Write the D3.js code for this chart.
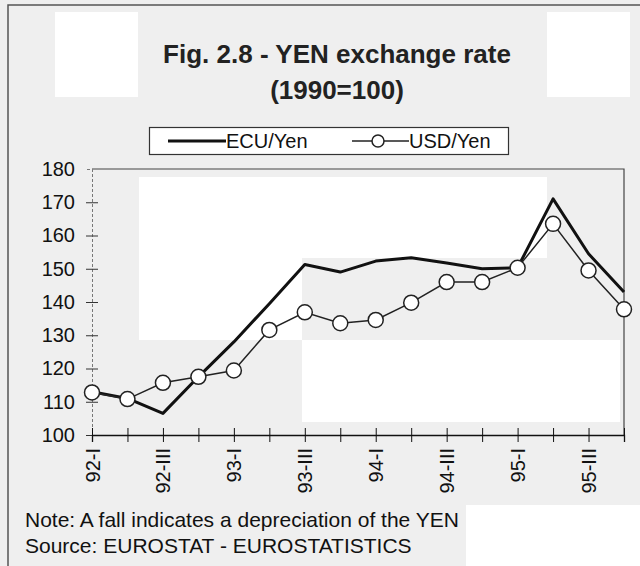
<!DOCTYPE html>
<html>
<head>
<meta charset="utf-8">
<script src="https://cdn.jsdelivr.net/npm/d3@7"></script>
<style>
  html, body { margin: 0; padding: 0; background: #efefef; }
  svg { display: block; font-family: 'Liberation Sans', Arial, sans-serif; }
</style>
</head>
<body>
<svg id="chart"></svg>
<script>
// quarters 92-I .. 95-IV
const quarters = ['92-I', '92-II', '92-III', '92-IV',
                  '93-I', '93-II', '93-III', '93-IV',
                  '94-I', '94-II', '94-III', '94-IV',
                  '95-I', '95-II', '95-III', '95-IV']
const ecuYen = [113, 111, 106.5, 117.5, 128, 139.5, 151.3, 149, 152.3, 153.3, 151.7, 150, 150.3, 171, 154.5, 143]
const usdYen = [112.8, 110.8, 115.7, 117.5, 119.4, 131.6, 136.9, 133.6, 134.6, 139.8, 146, 146, 150.3, 163.5, 149.5, 137.8]
const yTicks = [100, 110, 120, 130, 140, 150, 160, 170, 180]
const seriesNames = ['ECU/Yen', 'USD/Yen']

const W = 640, H = 566
const FONT = "'Liberation Sans', Arial, sans-serif"
const svg = d3.select('#chart').attr('width', W).attr('height', H)

// background + light patches of the scan
svg.append('rect').attr('width', W).attr('height', H).attr('fill', '#efefef')
const patches = [
    [55, 12, 83, 85], [547, 12, 83, 85],
    [139, 177, 163, 163], [302, 177, 245, 81],
    [302, 340, 245, 82], [547, 340, 73, 82],
    [466, 505, 174, 61]
]
svg.selectAll('rect.patch').data(patches).enter().append('rect')
    .attr('class', 'patch')
    .attr('x', d => d[0]).attr('y', d => d[1])
    .attr('width', d => d[2]).attr('height', d => d[3])
    .attr('fill', '#ffffff')

// outer frame (top + left only visible)
svg.append('path').attr('d', `M8,${H} L8,5 L${W},5`)
    .attr('fill', 'none').attr('stroke', '#555').attr('stroke-width', 1.5)

// title
svg.append('text').attr('x', 337).attr('y', 63)
    .attr('text-anchor', 'middle').attr('font-weight', 'bold').attr('font-size', 26)
    .attr('fill', '#222')
    .text('Fig. 2.8 - YEN exchange rate')
svg.append('text').attr('x', 337).attr('y', 99)
    .attr('text-anchor', 'middle').attr('font-weight', 'bold').attr('font-size', 26)
    .attr('fill', '#222')
    .text('(1990=100)')

// plot area
const pLeft = 92, pRight = 624, pTop = 169, pBottom = 435
const x = d3.scalePoint().domain(quarters).range([pLeft, pRight])
const y = d3.scaleLinear().domain([100, 180]).range([pBottom, pTop])

// frame top + right
svg.append('path').attr('d', `M${pLeft},${pTop} L${pRight},${pTop} L${pRight},${pBottom}`)
    .attr('fill', 'none').attr('stroke', '#444').attr('stroke-width', 1.2)

// y axis
const yAxis = svg.append('g').attr('transform', `translate(${pLeft},0)`)
    .call(d3.axisLeft(y).tickValues(yTicks).tickSize(6).tickPadding(11))
yAxis.select('.domain').attr('stroke', '#777').attr('stroke-dasharray', '3,2')
yAxis.selectAll('.tick line').attr('x2', 6).attr('x1', -6).attr('stroke', '#333')
yAxis.selectAll('.tick text').attr('font-size', 20).attr('fill', '#111')
    .attr('font-family', FONT)
yAxis.selectAll('.tick').filter(d => d === 180).select('line').remove()

// x axis
const xAxis = svg.append('g').attr('transform', `translate(0,${pBottom})`)
    .call(d3.axisBottom(x).tickSize(7).tickFormat((d, i) => i % 2 === 0 ? d : ''))
xAxis.select('.domain').attr('stroke', '#111').attr('stroke-width', 1.3)
xAxis.selectAll('.tick line').attr('y1', -7).attr('y2', 7).attr('stroke', '#111')
xAxis.selectAll('.tick text')
    .attr('font-size', 20).attr('fill', '#111')
    .attr('font-family', FONT)
    .attr('transform', 'rotate(-90)')
    .attr('text-anchor', 'end')
    .attr('x', -13).attr('y', 0).attr('dy', '0.35em')

// series
const line = d3.line().x((d, i) => x(quarters[i])).y(d => y(d))
svg.append('path').datum(ecuYen).attr('d', line)
    .attr('fill', 'none').attr('stroke', '#111').attr('stroke-width', 3)
    .attr('stroke-linejoin', 'round')
svg.append('path').datum(usdYen).attr('d', line)
    .attr('fill', 'none').attr('stroke', '#222').attr('stroke-width', 1.5)
svg.selectAll('circle.usd').data(usdYen).enter().append('circle')
    .attr('class', 'usd')
    .attr('cx', (d, i) => x(quarters[i])).attr('cy', d => y(d)).attr('r', 7.5)
    .attr('fill', '#fff').attr('stroke', '#222').attr('stroke-width', 1.5)

// legend
const lg = svg.append('g').attr('font-family', FONT)
lg.append('rect').attr('x', 149.5).attr('y', 127.5).attr('width', 359).attr('height', 27)
    .attr('fill', '#fff').attr('stroke', '#333').attr('stroke-width', 1.2)
lg.append('line').attr('x1', 168).attr('x2', 226).attr('y1', 141).attr('y2', 141)
    .attr('stroke', '#111').attr('stroke-width', 3)
lg.append('text').attr('x', 226).attr('y', 148).attr('font-size', 20).attr('fill', '#111')
    .text(seriesNames[0])
lg.append('line').attr('x1', 352).attr('x2', 409).attr('y1', 141).attr('y2', 141)
    .attr('stroke', '#222').attr('stroke-width', 1.5)
lg.append('circle').attr('cx', 378).attr('cy', 141).attr('r', 6)
    .attr('fill', '#fff').attr('stroke', '#222').attr('stroke-width', 1.5)
lg.append('text').attr('x', 409).attr('y', 148).attr('font-size', 20).attr('fill', '#111')
    .text(seriesNames[1])

// notes
svg.append('text').attr('x', 25).attr('y', 527).attr('font-size', 21).attr('fill', '#111')
    .text('Note: A fall indicates a depreciation of the YEN')
svg.append('text').attr('x', 25).attr('y', 553).attr('font-size', 21).attr('fill', '#111')
    .text('Source: EUROSTAT - EUROSTATISTICS')
</script>
</body>
</html>
